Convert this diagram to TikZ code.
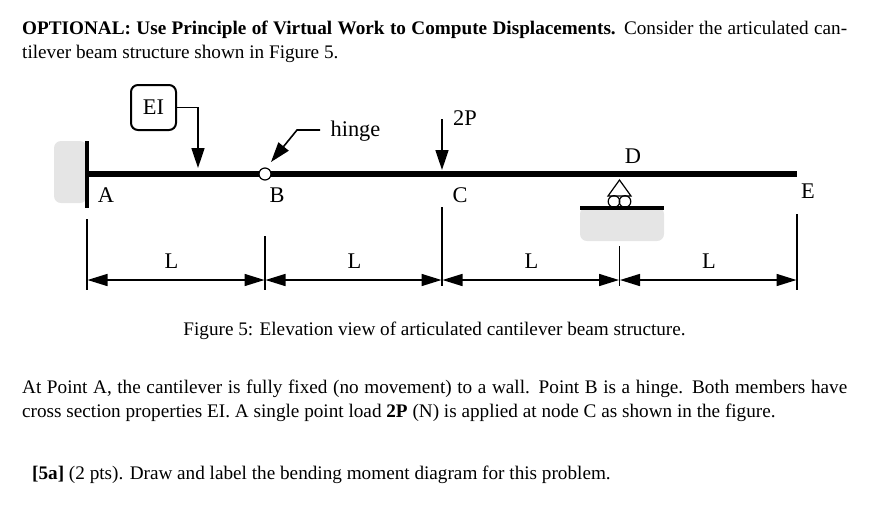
\documentclass[tikz,border=0pt]{standalone}
\usepackage{fontspec}
\setmainfont{Liberation Serif}
\usetikzlibrary{arrows.meta}
\newcommand{\fullline}[1]{\makebox[825pt][s]{#1}}
\tikzset{
  txt/.style={anchor=base west,inner sep=0pt},
  lbl/.style={anchor=base,inner sep=0pt,font=\fontsize{22.4}{24}\selectfont},
  tick/.style={line width=1.6pt},
  dim/.style={line width=1.6pt,{Stealth[length=20pt,width=12pt,inset=0pt]}-{Stealth[length=20pt,width=12pt,inset=0pt]},shorten <=0.5pt,shorten >=0.5pt},
  load/.style={line width=1.6pt,-{Stealth[length=20pt,width=13pt,inset=0pt]}},
  beam/.style={line width=5.5pt},
  ground/.style={fill=black!10,draw=none},
}
\begin{document}
\begin{tikzpicture}[x=1pt,y=-1pt,font=\fontsize{19.2}{24}\selectfont,line join=miter]
	\useasboundingbox (0,0) rectangle (895,515);
	% text above and below the figure
	\node[txt] (title1) at (22,34) {\fullline{\textbf{OPTIONAL: Use Principle of Virtual Work to Compute Displacements.} Consider the articulated can-}};
	\node[txt] (title2) at (22,58) {tilever beam structure shown in Figure 5.};
	\node[anchor=base,inner sep=0pt] (caption) at (434.5,335) {Figure 5: Elevation view of articulated cantilever beam structure.};
	\node[txt] (para1) at (22,393) {\fullline{At Point A, the cantilever is fully fixed (no movement) to a wall. Point B is a hinge. Both members have}};
	\node[txt] (para2) at (22,417) {cross section properties EI. A single point load \textbf{2P} (N) is applied at node C as shown in the figure.};
	\node[txt] (part) at (32,479) {\textbf{[5a]} (2 pts). Draw and label the bending moment diagram for this problem.};
	% wall and ground
	\fill[ground,rounded corners=7pt] (87,141) -- (54,141) -- (54,203) -- (87,203) -- cycle;
	\fill[ground,rounded corners=7pt] (580,207) -- (580,241) -- (664,241) -- (664,207) -- cycle;
	% beam
	\coordinate (A) at (87,174);
	\coordinate (B) at (265,174);
	\coordinate (C) at (442,174);
	\coordinate (D) at (619.5,174);
	\coordinate (E) at (797,174);
	\draw[line width=3.5pt] (87,141) -- (87,208);
	\draw[beam] (A) -- (E);
	\node[circle,draw,fill=white,line width=1.2pt,minimum size=12pt,inner sep=0pt] (hingeB) at (B) {};
	% roller support
	\draw[line width=1.2pt] (619.5,180) -- (608,196) -- (631,196) -- cycle;
	\draw[line width=1.2pt] (614,201.5) circle (5.8);
	\draw[line width=1.2pt] (625,201.5) circle (5.8);
	\draw[line width=4pt] (580,207.5) -- (664,207.5);
	% loads
	\node[lbl,draw,line width=2pt,rounded corners=7pt,minimum size=45pt,inner sep=0pt,anchor=center] (EI) at (153.5,107.5) {EI};
	\coordinate (EItip) at (198,168);
	\draw[load] (EI.east) -| (EItip);
	\node[lbl] (hingelbl) at (355.5,136) {hinge};
	\coordinate (hingestart) at (320,130);
	\coordinate (hingetip) at (271,162);
	\draw[load] (hingestart) -- (297,130) -- (hingetip);
	\coordinate (Pstart) at (442,119);
	\coordinate (Ptip) at (442,170);
	\draw[load] (Pstart) -- (Ptip);
	\node[lbl] (Plbl) at (465,125) {2P};
	% point labels
	\node[lbl] (Albl) at (106,202) {A};
	\node[lbl] (Blbl) at (277,202) {B};
	\node[lbl] (Clbl) at (460,202) {C};
	\node[lbl] (Dlbl) at (633,163) {D};
	\node[lbl] (Elbl) at (808,198) {E};
	% dimensions
	\foreach \nm/\px/\ytop/\ybot in {a/87/219/290,b/265/236/290,c/442/207/286,d/619.5/246/286,e/797/214/290}{
		\coordinate (\nm top) at (\px,\ytop);
		\coordinate (\nm bot) at (\px,\ybot);
		\coordinate (\nm dim) at (\px,280);
		\draw[tick] (\nm top) -- (\nm bot);
	}
	\draw[dim] (adim) -- (bdim);
	\draw[dim] (bdim) -- (cdim);
	\draw[dim] (cdim) -- (ddim);
	\draw[dim] (ddim) -- (edim);
	\node[lbl] (L1) at (171.5,268) {L};
	\node[lbl] (L2) at (354.5,268) {L};
	\node[lbl] (L3) at (531.5,268) {L};
	\node[lbl] (L4) at (709,268) {L};
\end{tikzpicture}
\end{document}
